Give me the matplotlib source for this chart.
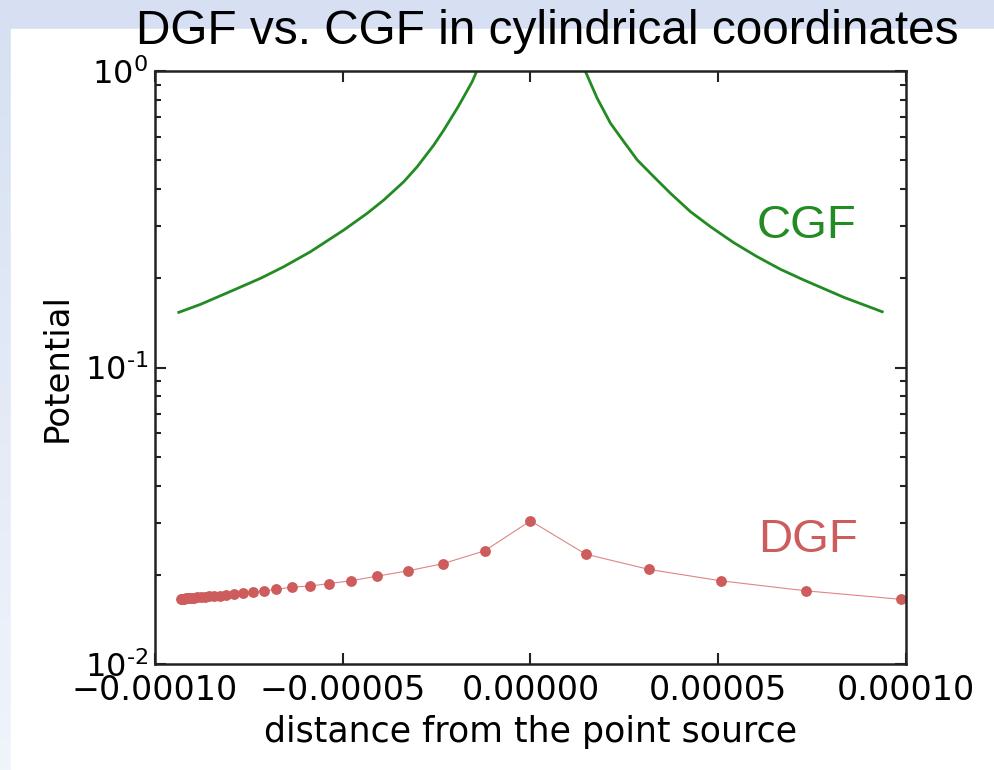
import numpy as np
import matplotlib.pyplot as plt
from matplotlib.patches import Rectangle
from matplotlib.ticker import FuncFormatter

# continuous Green's function (x in units of 1e-5)
cgf_x_left = [-9.366, -8.788, -7.901, -7.190, -6.570, -5.859, -4.972, -4.349, -3.907,
              -3.374, -3.017, -2.575, -2.309, -1.952, -1.776, -1.553, -1.438, -1.31]
cgf_y_left = [0.1536, 0.1634, 0.1827, 0.2000, 0.2189, 0.2459, 0.2910, 0.3313, 0.3673,
              0.4234, 0.4756, 0.5629, 0.6324, 0.7486, 0.8190, 0.9203, 0.995, 1.10]
cgf_x_right = [1.31, 1.465, 1.776, 2.130, 2.485, 2.842, 3.284, 3.728, 4.261, 4.794,
               5.414, 6.037, 6.658, 7.278, 8.344, 9.366]
cgf_y_right = [1.10, 0.995, 0.8091, 0.6664, 0.5776, 0.5013, 0.4400, 0.3869, 0.3354, 0.2985,
               0.2637, 0.2365, 0.2145, 0.1974, 0.1726, 0.1543]

# discrete Green's function samples (x in units of 1e-5)
dgf_x = [-9.316, -9.286, -9.252, -9.214, -9.172, -9.127, -9.076, -9.015, -8.948,
         -8.868, -8.775, -8.668, -8.549, -8.415, -8.269, -8.096, -7.901, -7.651,
         -7.385, -7.084, -6.764, -6.346, -5.878, -5.361, -4.786, -4.075, -3.257,
         -2.325, -1.217, 0.0, 1.465, 3.150, 5.060, 7.324, 9.872]
dgf_y = [0.01661, 0.01663, 0.01664, 0.01665, 0.01667, 0.01669, 0.01672, 0.01674, 0.01677,
         0.01681, 0.01685, 0.01689, 0.01694, 0.01698, 0.01704, 0.01712, 0.01725, 0.01745,
         0.01749, 0.01769, 0.01789, 0.01821, 0.01835, 0.01871, 0.01912, 0.01983, 0.02066,
         0.02185, 0.02414, 0.03045, 0.02352, 0.02089, 0.01912, 0.01769, 0.01655]

xtick_vals = [-1e-4, -5e-5, 0, 5e-5, 1e-4]
xtick_labels = ['\u22120.00010', '\u22120.00005', '0.00000', '0.00005', '0.00010']

scale = 1e-5

fig = plt.figure(figsize=(9.94, 7.70), dpi=100)

# slide background: pale blue band top and left, white panel
bg = fig.add_axes([0, 0, 1, 1], zorder=-10)
grad = np.linspace(0, 1, 256).reshape(-1, 1)
top_c = np.array([214, 224, 242]) / 255
bot_c = np.array([240, 244, 251]) / 255
img = top_c + (bot_c - top_c) * grad[..., None]
bg.imshow(img, aspect='auto', extent=[0, 1, 0, 1], origin='upper')
bg.add_patch(Rectangle((11 / 994, 0), 1, 1 - 29 / 770, color='white'))
bg.set_xlim(0, 1)
bg.set_ylim(0, 1)
bg.axis('off')

ax = fig.add_axes([0.1559, 0.1373, 0.9115 - 0.1559, 0.9078 - 0.1373])

ax.plot(np.array(cgf_x_left) * scale, cgf_y_left, color='#228b22', lw=2)
ax.plot(np.array(cgf_x_right) * scale, cgf_y_right, color='#228b22', lw=2)
ax.plot(np.array(dgf_x) * scale, dgf_y, '-', color='#e08585', lw=0.8)
ax.plot(np.array(dgf_x) * scale, dgf_y, 'o', color='#cd5c5c', ms=7.8, mec='none')

ax.set_yscale('log')
ax.set_xlim(-1e-4, 1e-4)
ax.set_ylim(1e-2, 1)
ax.set_xticks(xtick_vals)
ax.set_xticklabels(xtick_labels)


def log_fmt(v, pos):
    e = int(round(np.log10(v)))
    if e < 0:
        return '$\\mathdefault{10^{\u2010%d}}$' % (-e)
    return '$\\mathdefault{10^{%d}}$' % e


ax.yaxis.set_major_formatter(FuncFormatter(log_fmt))

ax.tick_params(which='both', direction='in', top=True, right=True, colors='#222222')
ax.tick_params(which='major', length=8, width=1.5, labelsize=24, pad=7)
ax.tick_params(which='minor', length=4, width=1.5)
ax.tick_params(axis='x', labelcolor='black')
ax.tick_params(axis='y', labelcolor='black', labelsize=23, pad=5)
for s in ax.spines.values():
    s.set_linewidth(1.8)
    s.set_color('#222222')

ax.set_xlabel('distance from the point source', fontsize=25, labelpad=6)
ax.set_ylabel('Potential', fontsize=24.5, labelpad=8)

fig.text(0.551, 1 - 44.3 / 770, 'DGF vs. CGF in cylindrical coordinates',
         ha='center', va='baseline', fontsize=34.4, family='Liberation Sans')
fig.text(756.7 / 994, 1 - 238.3 / 770, 'CGF', ha='left', va='baseline',
         fontsize=34, color='#228b22', family='Liberation Sans')
fig.text(758 / 994, 1 - 551.7 / 770, 'DGF', ha='left', va='baseline',
         fontsize=34, color='#cd5c5c', family='Liberation Sans')

fig.savefig('out.png', dpi=100)
